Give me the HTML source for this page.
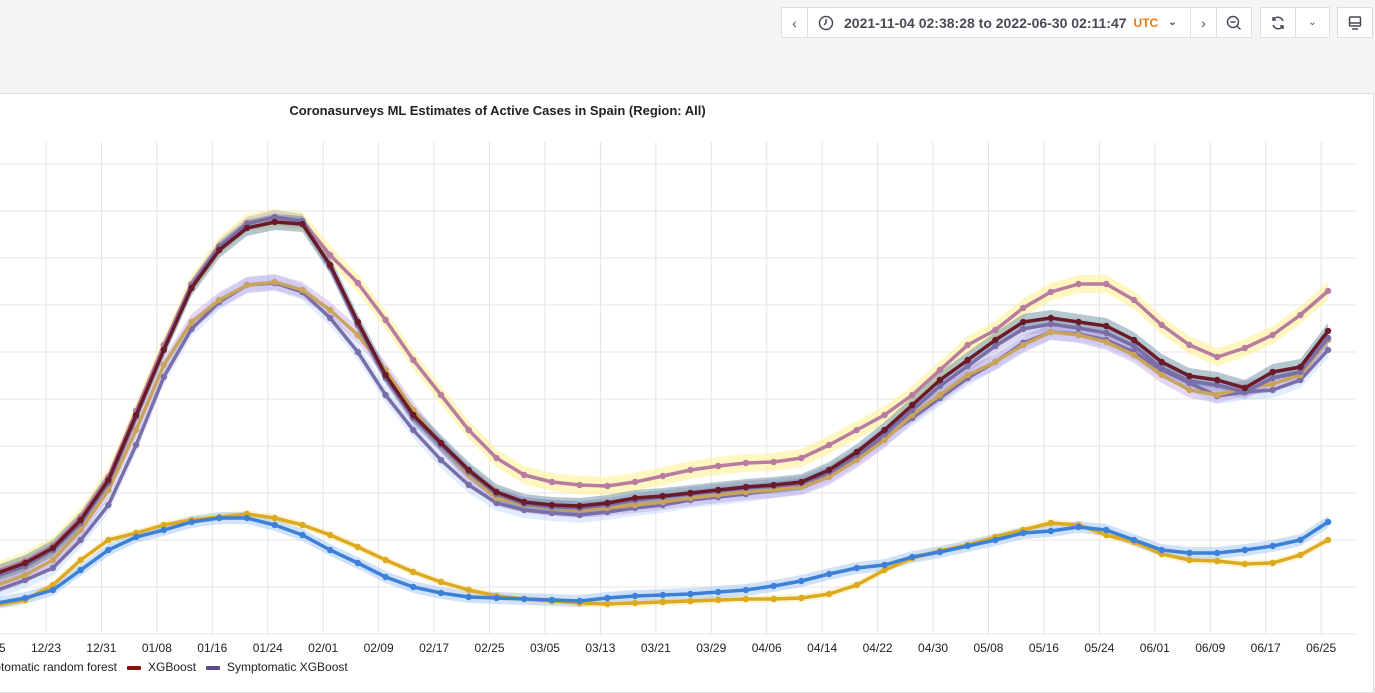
<!DOCTYPE html>
<html><head><meta charset="utf-8">
<style>
html,body{margin:0;padding:0;width:1375px;height:688px;overflow:hidden;background:#f4f5f5;font-family:"Liberation Sans",sans-serif;}
.btn{position:absolute;top:7px;height:31px;background:#fff;border:1px solid #dcdee1;box-sizing:border-box;color:#464c54;font-size:14px;display:flex;align-items:center;justify-content:center;}
#panel{position:absolute;left:-2px;top:93px;width:1376px;height:600px;background:#fff;border:1px solid #dcdee1;box-sizing:border-box;}
</style></head><body>
<div class="btn" style="left:781px;width:27px;">‹</div>
<div class="btn" style="left:807px;width:384px;justify-content:flex-start;padding-left:10px;font-weight:bold;color:#464c54">
<svg width="16" height="16" viewBox="0 0 16 16" style="margin-right:10px"><circle cx="8" cy="8" r="6.5" fill="none" stroke="#464c54" stroke-width="1.5"/><path d="M8 4v4l-2 2" fill="none" stroke="#464c54" stroke-width="1.5"/></svg>
<span>2021-11-04 02:38:28 to 2022-06-30 02:11:47</span><span style="color:#eb7b18;font-size:12px;margin-left:7px">UTC</span><span style="margin-left:10px;font-size:10px">⌄</span></div>
<div class="btn" style="left:1190px;width:27px;">›</div>
<div class="btn" style="left:1216px;width:36px;"><svg width="16" height="16" viewBox="0 0 16 16"><circle cx="7" cy="7" r="5.5" fill="none" stroke="#464c54" stroke-width="1.5"/><path d="M4.5 7h5M11 11l3.5 3.5" stroke="#464c54" stroke-width="1.5"/></svg></div>
<div class="btn" style="left:1260px;width:36px;"><svg width="16" height="16" viewBox="0 0 16 16"><path d="M13 6A5.5 5.5 0 0 0 3 5M3 10a5.5 5.5 0 0 0 10 1" fill="none" stroke="#464c54" stroke-width="1.5"/><path d="M3 2v3h3M13 14v-3h-3" fill="none" stroke="#464c54" stroke-width="1.5"/></svg></div>
<div class="btn" style="left:1295px;width:35px;font-size:10px">⌄</div>
<div class="btn" style="left:1337px;width:36px;"><svg width="16" height="16" viewBox="0 0 16 16"><rect x="2.5" y="2" width="11" height="9" rx="1" fill="none" stroke="#464c54" stroke-width="1.5"/><path d="M2.5 8h11M5 14h6" stroke="#464c54" stroke-width="1.5"/></svg></div>
<div id="panel"></div>
<div style="position:absolute;left:0;width:995px;text-align:center;top:103px;font-size:13px;font-weight:bold;color:#222">Coronasurveys ML Estimates of Active Cases in Spain (Region: All)</div>
<svg id="chart" width="1375" height="688" style="position:absolute;left:0;top:0"></svg>
<div style="position:absolute;top:660px;left:0;font-size:12px;color:#222;white-space:nowrap">
<span style="position:absolute;right:-117px;width:300px;text-align:right;left:auto">Symptomatic random forest</span>
<span style="position:absolute;left:127px"><span style="display:inline-block;width:14px;height:4px;background:#8a1111;vertical-align:middle;margin-right:7px;border-radius:1px"></span>XGBoost</span>
<span style="position:absolute;left:206px"><span style="display:inline-block;width:14px;height:4px;background:#5e4a8a;vertical-align:middle;margin-right:7px;border-radius:1px"></span>Symptomatic XGBoost</span>
</div>
<script>
// day offsets from 2021-12-23
const days=[-7,-3,1,5,9,13,17,21,25,29,33,37,41,45,49,53,57,61,65,69,73,77,81,85,89,93,97,101,105,109,113,117,121,125,129,133,137,141,145,149,153,157,161,165,169,173,177,181,185];
const tickLabels=["12/15","12/23","12/31","01/08","01/16","01/24","02/01","02/09","02/17","02/25","03/05","03/13","03/21","03/29","04/06","04/14","04/22","04/30","05/08","05/16","05/24","06/01","06/09","06/17","06/25"];
const tickDays=[-8,0,8,16,24,32,40,48,56,64,72,80,88,96,104,112,120,128,136,144,152,160,168,176,184];
const yTicks=[47,94,141,188,235,282,329,376,423,470];
// values (arbitrary units)
const xgboost=[61,71,86,114,154,219,284,346,384,406,412,410,369,312,259,219,191,164,142,132,129,128,131,136,138,141,144,147,149,152,164,182,204,229,254,274,294,312,316,312,308,294,272,258,254,246,262,267,303];
const randomForest=[63,73,88,117,157,223,289,350,388,411,416,413,379,351,314,274,239,204,176,159,152,149,148,152,158,164,168,171,172,176,189,204,219,239,264,289,304,326,342,350,350,334,309,289,277,286,299,319,343];
const sympXgb=[58,68,84,111,151,217,285,348,387,410,417,413,367,309,256,216,189,162,140,130,127,126,129,134,137,140,143,146,148,151,162,179,200,224,248,268,288,305,310,306,301,288,266,253,249,242,256,262,296];
const sympRf=[49,59,74,104,144,204,269,312,334,349,352,344,324,299,264,224,189,159,136,129,126,124,126,129,132,136,139,142,144,147,157,174,194,219,239,259,272,289,302,299,292,279,259,244,239,246,250,259,294];
const sympXgb2=[44,54,66,94,129,189,257,305,332,349,351,342,316,282,239,204,174,149,131,124,121,119,122,126,129,134,137,140,144,148,159,176,196,216,236,256,272,291,302,300,294,282,264,251,238,242,244,254,284];
const bottomGold=[29,34,49,74,94,101,109,114,117,120,116,109,99,87,74,62,52,44,38,35,33,31,30,31,32,33,34,35,35,36,40,49,64,76,83,89,97,104,111,109,99,92,80,74,73,70,71,79,94];
const bottomBlue=[31,36,44,64,84,97,104,112,116,116,109,99,84,71,57,47,41,37,36,35,34,33,36,38,39,40,42,44,48,53,60,66,69,77,82,88,94,101,103,107,104,94,84,81,81,84,88,94,112];
const NS='http://www.w3.org/2000/svg';
const svg=document.getElementById('chart');
const X0=46,PX_PER_DAY=6.93,Y0=634,PLOT_TOP=142,PLOT_RIGHT=1356;
const xs=d=>X0+d*PX_PER_DAY;
const ys=v=>Y0-v;
function el(t,a){const e=document.createElementNS(NS,t);for(const k in a)e.setAttribute(k,a[k]);svg.appendChild(e);return e;}
const clip=el('clipPath',{id:'cp'});
const cr=document.createElementNS(NS,'rect');cr.setAttribute('x',0);cr.setAttribute('y',PLOT_TOP);cr.setAttribute('width',PLOT_RIGHT);cr.setAttribute('height',Y0-PLOT_TOP+4);clip.appendChild(cr);
yTicks.forEach(v=>{
  const l=el('line',{x1:0,x2:PLOT_RIGHT,y1:ys(v),y2:ys(v),stroke:'#e4e4e4','stroke-width':1});
  
  
});
el('line',{x1:0,x2:PLOT_RIGHT,y1:Y0,y2:Y0,stroke:'#e4e4e4'});
tickDays.forEach((d,i)=>{
  const l=el('line',{x1:xs(d),x2:xs(d),y1:PLOT_TOP,y2:Y0,stroke:'#e4e4e4','stroke-width':1});
  
  
  const t=el('text',{x:xs(d),y:652,'text-anchor':'middle','font-size':12,fill:'#222','font-family':'Liberation Sans, sans-serif'});
  t.textContent=tickLabels[i];
  
  
});
const g=el('g',{'clip-path':'url(#cp)'});
function path(vals,off){return vals.map((v,i)=>(i?'L':'M')+xs(days[i]).toFixed(1)+' '+ys(v+off).toFixed(1)).join(' ');}
function band(vals,w){const up=vals.map((v,i)=>(i?'L':'M')+xs(days[i]).toFixed(1)+' '+ys(v+w).toFixed(1)).join(' ');
  const dn=vals.slice().reverse().map((v,j)=>{const i=vals.length-1-j;return 'L'+xs(days[i]).toFixed(1)+' '+ys(v-w).toFixed(1);}).join(' ');return up+' '+dn+' Z';}
const series=[
  {name:'symptomatic-xgboost-2',vals:sympXgb2,line:'#7a6ea8',band:'rgba(170,200,250,0.35)',w:8},
  {name:'symptomatic-random-forest',vals:sympRf,line:'#c9a45c',band:'rgba(180,140,220,0.35)',w:8},
  {name:'random-forest',vals:randomForest,line:'#b87ca0',band:'rgba(255,240,150,0.6)',w:9},
  {name:'symptomatic-xgboost',vals:sympXgb,line:'#7a6ea8',band:'rgba(140,130,200,0.3)',w:7},
  {name:'xgboost',vals:xgboost,line:'#6b1a2a',band:'rgba(90,130,150,0.45)',w:8},
  {name:'bottom-gold',vals:bottomGold,line:'#dcaa1e',band:'rgba(255,220,120,0.3)',w:4},
  {name:'bottom-blue',vals:bottomBlue,line:'#3d80d8',band:'rgba(150,190,245,0.45)',w:6}
];
series.forEach(s=>{
  const b=document.createElementNS(NS,'path');b.setAttribute('d',band(s.vals,s.w));b.setAttribute('fill',s.band);g.appendChild(b);
  
  
});
series.forEach(s=>{
  const p=document.createElementNS(NS,'path');p.setAttribute('d',path(s.vals,0));p.setAttribute('fill','none');p.setAttribute('stroke',s.line);p.setAttribute('stroke-width',3.5);p.setAttribute('stroke-linejoin','round');g.appendChild(p);
  
  
  s.vals.forEach((v,i)=>{
    const c=document.createElementNS(NS,'circle');c.setAttribute('cx',xs(days[i]));c.setAttribute('cy',ys(v));c.setAttribute('r',3.2);c.setAttribute('fill',s.line);g.appendChild(c);
    
    
  });
});
</script>
</body></html>
